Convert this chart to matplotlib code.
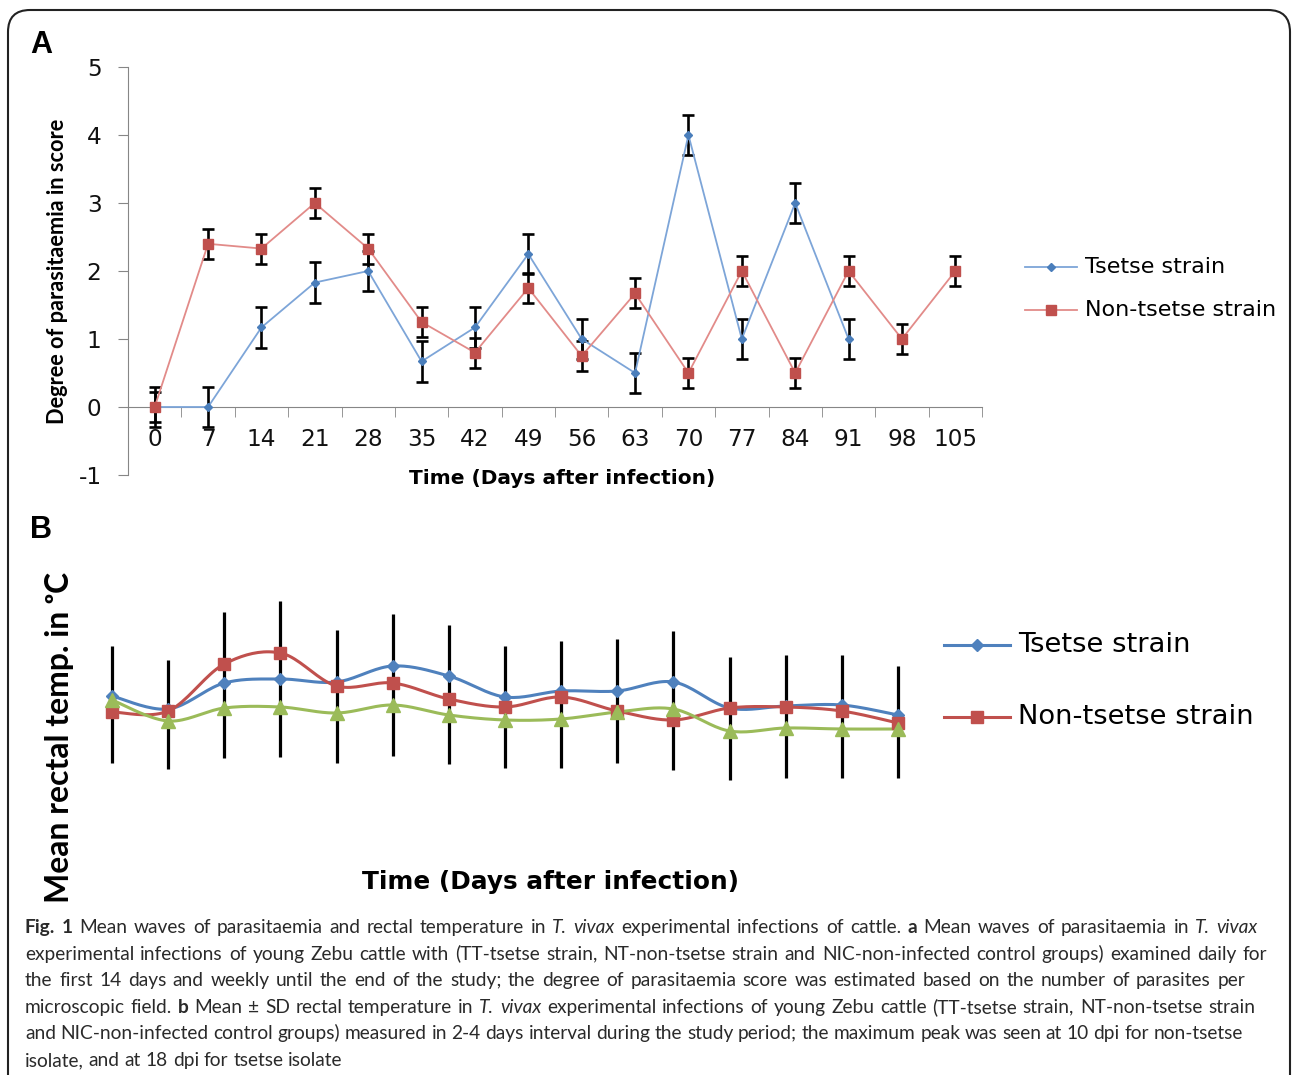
import numpy as np
import matplotlib
matplotlib.use("Agg")
import matplotlib.pyplot as plt
from matplotlib.lines import Line2D
from matplotlib.patches import FancyBboxPatch
from matplotlib.transforms import IdentityTransform

plt.rcParams['axes.unicode_minus'] = False

W, H = 1293, 1075

# ---- Panel A: parasitaemia score ----
days_a = [0, 7, 14, 21, 28, 35, 42, 49, 56, 63, 70, 77, 84, 91, 98, 105]
tsetse_a = [0, 0, 1.17, 1.83, 2.0, 0.67, 1.17, 2.25, 1.0, 0.5, 4.0, 1.0, 3.0, 1.0, np.nan, np.nan]
tsetse_a_sd = [0.3, 0.3, 0.3, 0.3, 0.3, 0.3, 0.3, 0.3, 0.3, 0.3, 0.3, 0.3, 0.3, 0.3, np.nan, np.nan]
nontsetse_a = [0, 2.4, 2.33, 3.0, 2.33, 1.25, 0.8, 1.75, 0.75, 1.67, 0.5, 2.0, 0.5, 2.0, 1.0, 2.0]
nontsetse_a_sd = [0.22] * 16

# ---- Panel B: mean rectal temperature (deg C), 15 measurements ----
tsetse_b = [38.54, 38.41, 38.67, 38.71, 38.68, 38.84, 38.74, 38.53, 38.59, 38.59,
            38.68, 38.42, 38.44, 38.45, 38.35]
nontsetse_b = [38.38, 38.39, 38.86, 38.97, 38.64, 38.67, 38.51, 38.43, 38.53, 38.39,
               38.30, 38.42, 38.43, 38.39, 38.27]
control_b = [38.50, 38.29, 38.42, 38.43, 38.37, 38.45, 38.35, 38.30, 38.31, 38.38,
             38.41, 38.19, 38.22, 38.21, 38.21]
sd_high_b = [39.04, 38.90, 39.38, 39.49, 39.20, 39.36, 39.25, 39.04, 39.09, 39.11,
             39.19, 38.93, 38.95, 38.95, 38.84]
sd_low_b = [37.87, 37.81, 37.92, 37.93, 37.87, 37.94, 37.86, 37.82, 37.82, 37.87,
            37.80, 37.70, 37.72, 37.72, 37.72]

GRAY = '#868686'
BLUE, RED, GREEN = '#4F81BD', '#C0504D', '#9BBB59'
WIDE = ['DejaVu Sans']           # horizontal chart text (the chart image is stretched)
NARROW = ['Lato', 'DejaVu Sans']  # rotated labels and caption


def fx(px):
    return px / W


def fy(py):
    return 1 - py / H


def smooth(x, y, n=20):
    # Excel-like smoothed line (Catmull-Rom through the points)
    x = np.asarray(x, float)
    y = np.asarray(y, float)
    px = np.r_[x[0], x, x[-1]]
    py = np.r_[y[0], y, y[-1]]
    t = np.linspace(0, 1, n, endpoint=False)
    h00 = 2*t**3 - 3*t**2 + 1
    h10 = t**3 - 2*t**2 + t
    h01 = -2*t**3 + 3*t**2
    h11 = t**3 - t**2
    xs, ys = [], []
    for i in range(1, len(x)):
        for p, out in ((px, xs), (py, ys)):
            m1 = (p[i+1] - p[i-1]) / 2
            m2 = (p[i+2] - p[i]) / 2
            out.extend(h00*p[i] + h10*m1 + h01*p[i+1] + h11*m2)
    xs.append(x[-1])
    ys.append(y[-1])
    return np.array(xs), np.array(ys)


fig = plt.figure(figsize=(W/100, H/100), dpi=100)
fig.patch.set_facecolor('white')
renderer = fig.canvas.get_renderer()


def fit_size(s, target, **kw):
    # font size that makes the string `target` pixels long
    t = fig.text(0, 0, s, fontsize=10, **kw)
    w = t.get_window_extent(renderer).width
    t.remove()
    return 10 * target / w


# rounded frame
frame = FancyBboxPatch((8, -40), 1282, H - 10 + 40, boxstyle="round,pad=0,rounding_size=22",
                       transform=IdentityTransform(), fill=False, ec='#222222', lw=1.5)
fig.add_artist(frame)

# ================= Panel A =================
axA = fig.add_axes([fx(128), fy(475), 854/W, 408/H])
xa = np.arange(len(days_a))
axA.errorbar(xa, nontsetse_a, yerr=nontsetse_a_sd, fmt='none', ecolor='black',
             elinewidth=1.9, capsize=4.3, capthick=1.9, zorder=2)
axA.errorbar(xa, tsetse_a, yerr=tsetse_a_sd, fmt='none', ecolor='black',
             elinewidth=1.9, capsize=4.3, capthick=1.9, zorder=2)
axA.plot(xa, tsetse_a, color='#7DA5D8', lw=1.3, marker='D', ms=4.2,
         mfc='#4A7EBB', mec='#4A7EBB', zorder=3)
axA.plot(xa, nontsetse_a, color='#E28B89', lw=1.3, marker='s', ms=6.5,
         mfc='#C0504D', mec='#C0504D', zorder=4)

tick_size = fit_size('105', 44, family=WIDE)
axA.set_xlim(-0.5, 15.5)
axA.set_ylim(-1, 5)
for s in ('top', 'right'):
    axA.spines[s].set_visible(False)
axA.spines['bottom'].set_position(('data', 0))
axA.spines['bottom'].set_color(GRAY)
axA.spines['left'].set_color(GRAY)
axA.set_yticks(range(-1, 6))
axA.tick_params(axis='y', length=7, color=GRAY, labelsize=tick_size, pad=12, direction='out')
axA.set_xticks(xa)
axA.set_xticklabels([str(d) for d in days_a])
axA.tick_params(axis='x', which='major', length=0, pad=15, labelsize=tick_size)
axA.set_xticks(np.arange(-0.5, 16, 1), minor=True)
axA.tick_params(axis='x', which='minor', length=7, color=GRAY, direction='out')
for lab in axA.get_xticklabels() + axA.get_yticklabels():
    lab.set_family(WIDE)
    lab.set_color('#111111')

fig.text(fx(30), fy(45), 'A', fontsize=22, weight='bold', family='Liberation Sans',
         ha='left', va='center')
s = 'Degree of parasitaemia in score'
fig.text(fx(58), fy(271), s, rotation=90, weight='bold', family=NARROW,
         fontsize=fit_size(s, 307, weight='bold', family=NARROW), ha='center', va='center')
s = 'Time (Days after infection)'
fig.text(fx(562), fy(478), s, weight='bold', family=WIDE,
         fontsize=fit_size(s, 305, weight='bold', family=WIDE), ha='center', va='center')


def legend_entry(x0, x1, y, color, lcolor, marker, ms, lw, label, size):
    xm = (x0 + x1) / 2
    fig.add_artist(Line2D([fx(x0), fx(x1)], [fy(y), fy(y)], color=lcolor, lw=lw,
                          transform=fig.transFigure))
    fig.add_artist(Line2D([fx(xm)], [fy(y)], marker=marker, ms=ms, color=color, lw=0,
                          transform=fig.transFigure))
    fig.text(fx(x1 + 8), fy(y), label, fontsize=size, family=WIDE,
             ha='left', va='center')


leg_a = fit_size('Non-tsetse strain', 190, family=WIDE)
legend_entry(1025, 1077, 267, '#4A7EBB', '#7DA5D8', 'D', 4.2, 1.3, 'Tsetse strain', leg_a)
legend_entry(1025, 1077, 310, '#C0504D', '#E28B89', 's', 6.5, 1.3, 'Non-tsetse strain', leg_a)

# ================= Panel B =================
axB = fig.add_axes([fx(84), fy(860), 842/W, 300/H])
xb = np.arange(len(tsetse_b))
axB.vlines(xb, sd_low_b, sd_high_b, color='black', lw=2.3, zorder=2)
for vals, col, mk, ms in ((tsetse_b, BLUE, 'D', 6.5),
                          (nontsetse_b, RED, 's', 8.5),
                          (control_b, GREEN, '^', 9.5)):
    sx, sy = smooth(xb, vals)
    axB.plot(sx, sy, color=col, lw=2.2, zorder=3)
    axB.plot(xb, vals, ls='none', marker=mk, ms=ms, color=col, zorder=4)
axB.set_xlim(-0.5, 14.5)
axB.set_ylim(36.9, 39.9)
axB.axis('off')

fig.text(fx(30), fy(530), 'B', fontsize=22, weight='bold', family='Liberation Sans',
         ha='left', va='center')
s = 'Mean rectal temp. in \u1d52C'
fig.text(fx(60), fy(737), s, rotation=90, weight='bold', family=NARROW,
         fontsize=fit_size(s, 331, weight='bold', family=NARROW), ha='center', va='center')
s = 'Time (Days after infection)'
fig.text(fx(550), fy(882), s, weight='bold', family=WIDE,
         fontsize=fit_size(s, 375, weight='bold', family=WIDE), ha='center', va='center')

leg_b = fit_size('Non-tsetse strain', 234, family=WIDE)
legend_entry(944, 1010, 645, BLUE, BLUE, 'D', 6.5, 2.2, 'Tsetse strain', leg_b)
legend_entry(944, 1010, 717, RED, RED, 's', 8.5, 2.2, 'Non-tsetse strain', leg_b)

# ================= Caption =================
caption = [
    ([("Fig. 1", "b"), ("Mean waves of parasitaemia and rectal temperature in", "n"),
      ("T. vivax", "i"), ("experimental infections of cattle.", "n"), ("a", "b"),
      ("Mean waves of parasitaemia in", "n"), ("T. vivax", "i")], 1258),
    ([("experimental infections of young Zebu cattle with (TT-tsetse strain, NT-non-tsetse "
       "strain and NIC-non-infected control groups) examined daily for", "n")], 1267),
    ([("the first 14 days and weekly until the end of the study; the degree of parasitaemia "
       "score was estimated based on the number of parasites per", "n")], 1245),
    ([("microscopic field.", "n"), ("b", "b"), ("Mean \u00b1 SD rectal temperature in", "n"),
      ("T. vivax", "i"), ("experimental infections of young Zebu cattle (TT-tsetse strain, "
                          "NT-non-tsetse strain", "n")], 1255),
    ([("and NIC-non-infected control groups) measured in 2-4 days interval during the study "
       "period; the maximum peak was seen at 10 dpi for non-tsetse", "n")], 1243),
    ([("isolate, and at 18 dpi for tsetse isolate", "n")], None),
]
cap_size = 13.8
cap_color = '#2a2a2a'
styles = {"n": dict(), "b": dict(weight='bold'), "i": dict(style='italic')}


def measure(s, st):
    t = fig.text(0, 0, s, fontsize=cap_size, family=NARROW, **styles[st])
    w = t.get_window_extent(renderer).width
    t.remove()
    return w


space_w = measure("a a", "n") - measure("aa", "n")
baseline = 933
for runs, right in caption:
    words = [(w, st) for text, st in runs for w in text.split()]
    texts, widths = [], []
    for w, st in words:
        t = fig.text(0, 0, w, fontsize=cap_size, family=NARROW, color=cap_color,
                     va='baseline', ha='left', **styles[st])
        texts.append(t)
        widths.append(t.get_window_extent(renderer).width)
    if right is not None and len(words) > 1:
        gap = (right - 25 - sum(widths)) / (len(words) - 1)
    else:
        gap = space_w
    x = 25
    for t, w in zip(texts, widths):
        t.set_position((fx(x), fy(baseline)))
        x += w + gap
    baseline += 26.6

fig.savefig('out.png', dpi=100)
